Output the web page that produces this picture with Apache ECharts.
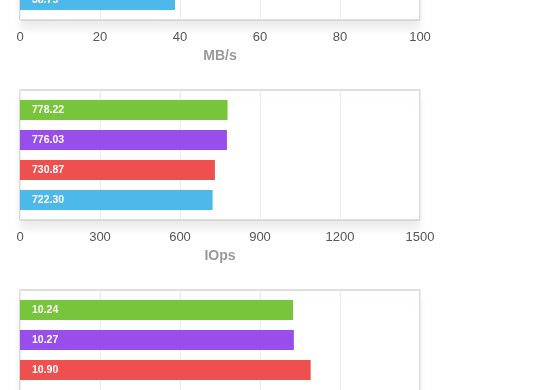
<!DOCTYPE html>
<html>
<head>
<meta charset="utf-8">
<script src="https://cdn.jsdelivr.net/npm/echarts@6/dist/echarts.min.js"></script>
<style>
html,body{margin:0;padding:0;background:#fff;overflow:hidden;width:560px;height:390px;}
#wrap{position:absolute;left:0;top:-200px;width:560px;height:790px;}
</style>
</head>
<body>
<div id="wrap"></div>
<script>
// Data
var categories = ['1', '2', '3', '4'];
var barColors = ['#77c53a', '#984eea', '#ee4f4f', '#4db9ea'];

// Chart 1 (MB/s) - only the last bar is visible in the reference
var mbpsValues = [null, null, null, 38.75];
var mbpsMax = 100;
var mbpsTicks = [0, 20, 40, 60, 80, 100];

// Chart 2 (IOps)
var iopsValues = [778.22, 776.03, 730.87, 722.30];
var iopsMax = 1500;
var iopsTicks = [0, 300, 600, 900, 1200, 1500];

// Chart 3 (axis name not visible) - last bar not visible
var thirdValues = [10.24, 10.27, 10.90, null];
var thirdMax = 15;
var thirdTicks = [0, 3, 6, 9, 12, 15];

var charts = [
  { values: mbpsValues, max: mbpsMax, ticks: mbpsTicks, name: 'MB/s' },
  { values: iopsValues, max: iopsMax, ticks: iopsTicks, name: 'IOps' },
  { values: thirdValues, max: thirdMax, ticks: thirdTicks, name: '' }
];

var FONT = '"Liberation Sans", Arial, Helvetica, sans-serif';
var grid = [], xAxis = [], yAxis = [], series = [];

charts.forEach(function (c, i) {
  var base = 90 + 200 * i;
  var interval = c.ticks[1] - c.ticks[0];
  // frame grid
  grid.push({
    left: 20, width: 400, top: base, height: 130,
    show: true, backgroundColor: '#fff', borderColor: '#bdbdbd', borderWidth: 1,
    shadowColor: 'rgba(0,0,0,0.08)', shadowBlur: 8, shadowOffsetY: 9
  });
  var fg = grid.length - 1;
  xAxis.push({
    gridIndex: fg, type: 'value', min: 0, max: c.max, interval: interval,
    axisLine: { show: false }, axisTick: { show: false },
    splitLine: { show: true, lineStyle: { color: '#ebebeb', width: 1 } },
    axisLabel: { color: '#555', fontSize: 13, margin: 11, fontFamily: FONT,
      formatter: function (v) { return String(v); } },
    name: c.name, nameLocation: 'middle', nameGap: 29,
    nameTextStyle: { color: '#999', fontSize: 14, fontWeight: 'bold', fontFamily: FONT }
  });
  yAxis.push({ gridIndex: fg, type: 'value', show: false });

  // data grid
  grid.push({ left: 20, width: 400, top: base + 5, height: 120 });
  var dg = grid.length - 1;
  xAxis.push({ gridIndex: dg, type: 'value', min: 0, max: c.max, show: false, splitLine: { show: false } });
  yAxis.push({ gridIndex: dg, type: 'category', data: categories, inverse: true, show: false });
  series.push({
    type: 'bar', xAxisIndex: xAxis.length - 1, yAxisIndex: yAxis.length - 1,
    data: c.values, barWidth: 20, z: 3,
    itemStyle: { color: function (p) { return barColors[p.dataIndex]; } },
    label: {
      show: true, position: 'insideLeft', distance: 12, color: '#fff',
      fontSize: 10.5, fontWeight: 'bold', fontFamily: FONT,
      formatter: function (p) { return p.value == null ? '' : Number(p.value).toFixed(2); }
    },
    silent: true
  });
});

var chart = echarts.init(document.getElementById('wrap'), null, { renderer: 'canvas' });
chart.setOption({
  animation: false,
  textStyle: { fontFamily: FONT },
  grid: grid, xAxis: xAxis, yAxis: yAxis, series: series
});
</script>
</body>
</html>
